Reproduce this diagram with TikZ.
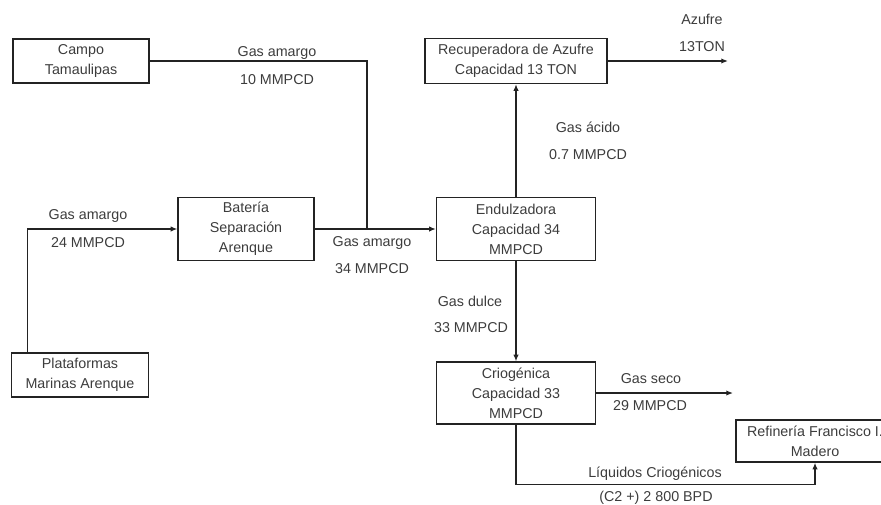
\documentclass[tikz,border=0pt]{standalone}
\usepackage{fontspec}
\setmainfont{Liberation Sans}
\usepackage{tikz}
\usetikzlibrary{arrows.meta}
\definecolor{linegray}{RGB}{35,35,35}
\definecolor{textgray}{RGB}{60,60,60}

\begin{document}
\begin{tikzpicture}[x=0.03cm, y=-0.03cm,
        box/.style={draw=linegray, line width=1.1pt, align=center, inner sep=0pt,
            text=textgray, font=\fontsize{12.2}{17}\selectfont},
        lbl/.style={text=textgray, font=\fontsize{12.2}{17}\selectfont, inner sep=0pt,
            text height=1.6ex, text depth=0.3ex},
        pipe/.style={draw=linegray, line width=1.1pt},
        flow/.style={pipe, -{Latex[length=2mm,width=1.6mm]}}]
        \clip (0,0) rectangle (881,504);

        % 方框
        \node[box, minimum width=4.08cm, minimum height=1.32cm] (campo) at (81,61) {Campo\\Tamaulipas};
        \node[box, minimum width=5.46cm, minimum height=1.35cm] (recup) at (516,61) {Recuperadora de Azufre\\Capacidad 13 TON};
        \node[box, minimum width=4.08cm, minimum height=1.89cm] (bat) at (246,229) {Batería\\Separación\\Arenque};
        \node[box, minimum width=4.77cm, minimum height=1.89cm] (endu) at (516,229) {Endulzadora\\Capacidad 34\\MMPCD};
        \node[box, minimum width=4.11cm, minimum height=1.32cm] (plat) at (80,375) {Plataformas\\Marinas Arenque};
        \node[box, minimum width=4.77cm, minimum height=1.86cm] (crio) at (516,393) {Criogénica\\Capacidad 33\\MMPCD};
        \node[box, minimum width=4.74cm, minimum height=1.26cm] (ref) at (815,441) {Refinería Francisco I.\\Madero};

        % 连线
        \coordinate (union) at (367,229);
        \coordinate (azufre) at (728,61);
        \coordinate (seco) at (733,393);
        \draw[pipe] (campo.east) -| (union);
        \draw[flow] ([xshift=0.51cm]plat.north west) |- (bat.west);
        \draw[flow] (bat.east) -- (endu.west);
        \draw[flow] (endu.north) -- (recup.south);
        \draw[flow] (recup.east) -- (azufre);
        \draw[flow] (endu.south) -- (crio.north);
        \draw[flow] (crio.east) -- (seco);
        \draw[flow] (crio.south) -- ++(0,60) -| (ref.south);

        % 标注
        \node[lbl] (l1a) at (277,52) {Gas amargo};
        \node[lbl] (l1b) at (277,80) {10 MMPCD};
        \node[lbl] (l2a) at (702,20) {Azufre};
        \node[lbl] (l2b) at (702,47) {13TON};
        \node[lbl] (l3a) at (88,215) {Gas amargo};
        \node[lbl] (l3b) at (88,243) {24 MMPCD};
        \node[lbl] (l4a) at (372,242) {Gas amargo};
        \node[lbl] (l4b) at (372,269) {34 MMPCD};
        \node[lbl] (l5a) at (588,128) {Gas ácido};
        \node[lbl] (l5b) at (588,155) {0.7 MMPCD};
        \node[lbl] (l6a) at (470,302) {Gas dulce};
        \node[lbl] (l6b) at (471,328) {33 MMPCD};
        \node[lbl] (l7a) at (651,379) {Gas seco};
        \node[lbl] (l7b) at (650,406) {29 MMPCD};
        \node[lbl] (l8a) at (655,473) {Líquidos Criogénicos};
        \node[lbl] (l8b) at (656,497) {(C2 +) 2 800 BPD};
    \end{tikzpicture}
\end{document}
